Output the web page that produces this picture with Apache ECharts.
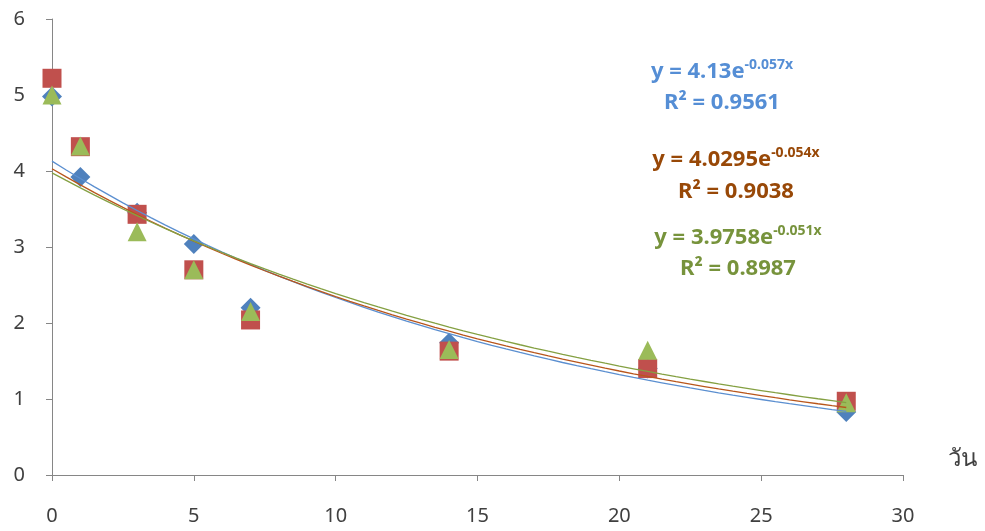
<!DOCTYPE html>
<html><head><meta charset="utf-8">
<script src="https://cdn.jsdelivr.net/npm/echarts@6/dist/echarts.min.js"></script>
<style>html,body{margin:0;padding:0;background:#fff}#c{width:985px;height:531px}</style>
</head><body><div id="c"></div>
<script>
const days = [0, 1, 3, 5, 7, 14, 21, 28];
const seriesA = [4.98, 3.92, 3.45, 3.04, 2.20, 1.74, 1.40, 0.83];
const seriesB = [5.22, 4.32, 3.43, 2.70, 2.04, 1.63, 1.40, 0.97];
const seriesC = [5.00, 4.33, 3.20, 2.70, 2.15, 1.65, 1.64, 0.95];
const trendA = [4.13, -0.057];
const trendB = [4.0295, -0.054];
const trendC = [3.9758, -0.051];
const xTicks = [0, 5, 10, 15, 20, 25, 30];
const yTicks = [0, 1, 2, 3, 4, 5, 6];
const eqTexts = [
  ['y = 4.13e', '-0.057x', 'R² = 0.9561'],
  ['y = 4.0295e', '-0.054x', 'R² = 0.9038'],
  ['y = 3.9758e', '-0.051x', 'R² = 0.8987']
];

function trendPts(t) {
  const pts = [];
  for (let i = 0; i <= 56; i++) { const x = i * 0.5; pts.push([x, t[0] * Math.exp(t[1] * x)]); }
  return pts;
}
const pairs = ys => days.map((d, i) => [d, ys[i]]);

const chart = echarts.init(document.getElementById('c'), null, {renderer: 'canvas'});
const font = '"Noto Sans", sans-serif';
const eqColors = ['#558ED5', '#984807', '#77933C'];
const eqPos = [[722, 72, 103], [736, 160, 192], [738, 238, 269]];
const graphics = [];
eqTexts.forEach((t, i) => {
  graphics.push({type: 'text', x: eqPos[i][0], y: eqPos[i][1], style: {
    text: '{b|' + t[0] + '}{s|' + t[1] + '}', align: 'center', verticalAlign: 'middle',
    rich: {b: {fontSize: 22, fontWeight: 'bold', fill: eqColors[i], fontFamily: font, lineHeight: 26},
           s: {fontSize: 14, fontWeight: 'bold', fill: eqColors[i], fontFamily: font, lineHeight: 26, padding: [0, 0, 13, 0]}}
  }});
  graphics.push({type: 'text', x: eqPos[i][0], y: eqPos[i][2], style: {
    text: t[2], align: 'center', verticalAlign: 'middle', fontSize: 22, fontWeight: 'bold', fill: eqColors[i], fontFamily: font
  }});
});
graphics.push({type: 'text', x: 962, y: 459, style: {text: 'วัน', align: 'center', verticalAlign: 'middle', fontSize: 24, fill: '#404040', fontFamily: font}});

chart.setOption({
  animation: false,
  grid: {left: 52, right: 82, top: 19, bottom: 56, containLabel: false},
  xAxis: {type: 'value', min: 0, max: 30, interval: 5,
    axisLine: {lineStyle: {color: '#868686', width: 1}},
    axisTick: {show: true, length: 6, lineStyle: {color: '#868686'}},
    axisLabel: {margin: 31, fontSize: 20, color: '#404040', fontFamily: font, formatter: v => xTicks.includes(v) ? String(v) : ''},
    splitLine: {show: false}},
  yAxis: {type: 'value', min: 0, max: 6, interval: 1,
    axisLine: {show: true, lineStyle: {color: '#868686', width: 1}},
    axisTick: {show: true, length: 6, lineStyle: {color: '#868686'}},
    axisLabel: {margin: 27, fontSize: 20, color: '#404040', fontFamily: font, formatter: v => yTicks.includes(v) ? String(v) : ''},
    splitLine: {show: false}},
  graphic: graphics,
  series: [
    {type: 'scatter', data: pairs(seriesA), symbol: 'diamond', symbolSize: 20, itemStyle: {color: '#4F81BD', opacity: 1}, z: 2},
    {type: 'scatter', data: pairs(seriesB), symbol: 'rect', symbolSize: 19, itemStyle: {color: '#C0504D', opacity: 1}, z: 3},
    {type: 'scatter', data: pairs(seriesC), symbol: 'triangle', symbolSize: 19, itemStyle: {color: '#9BBB59', opacity: 1}, z: 4},
    {type: 'line', data: trendPts(trendA), showSymbol: false, smooth: false, lineStyle: {color: '#5B8FD0', width: 1.3}, z: 5},
    {type: 'line', data: trendPts(trendB), showSymbol: false, smooth: false, lineStyle: {color: '#B8561C', width: 1.3}, z: 5},
    {type: 'line', data: trendPts(trendC), showSymbol: false, smooth: false, lineStyle: {color: '#84A042', width: 1.3}, z: 5}
  ]
});
</script></body></html>
